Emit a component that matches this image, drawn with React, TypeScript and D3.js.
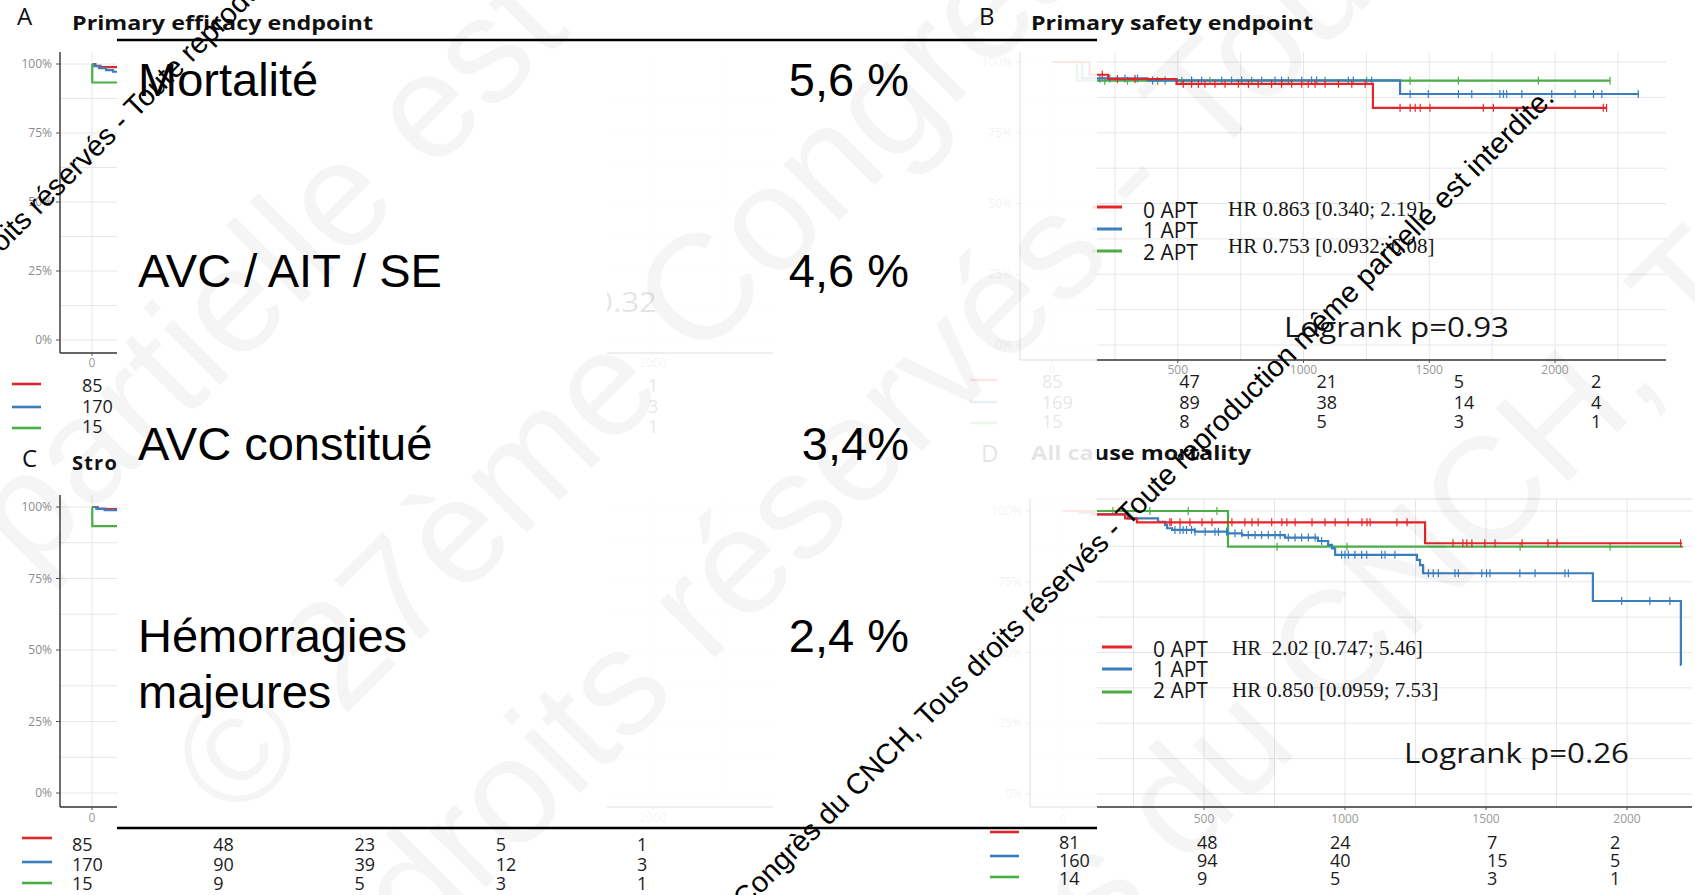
import React from "react";
import * as d3 from "d3";

type Pt = [number, number];

const W = 1695;
const H = 895;

const FONT_PANEL = "'Open Sans', 'DejaVu Sans', sans-serif";
const FONT_SLIDE = "'Liberation Sans', Arial, sans-serif";
const FONT_SERIF = "'Liberation Serif', 'Times New Roman', serif";

const RED = "#e4262b";
const BLUE = "#3a7ec0";
const GREEN = "#4aad45";
const GROUP_COLORS = [RED, BLUE, GREEN];

// ---------------- data ----------------
const groupLabels = ["0 APT", "1 APT", "2 APT"];
const riskDays = [0, 500, 1000, 1500, 2000];
const yTicks = [0, 25, 50, 75, 100];
const xTicks = [0, 500, 1000, 1500, 2000];

// Summary box: event rates
const summaryLabels = [["Mortalité"], ["AVC / AIT / SE"], ["AVC constitué"], ["Hémorragies", "majeures"]];
const summaryValues = ["5,6 %", "4,6 %", "3,4%", "2,4 %"];

// A — primary efficacy endpoint (survival %, step after each day)
const effRed: Pt[] = [[0, 100], [12, 99.3], [30, 98.9]];
const effBlue: Pt[] = [[0, 100], [8, 99.2], [25, 98.5], [50, 97.8], [75, 97.2]];
const effGreen: Pt[] = [[0, 100], [1, 93.3]];
const effEnd = 91;
const effRiskDays = [0, 2000];
const effRiskRed = [85, 1];
const effRiskBlue = [170, 3];
const effRiskGreen = [15, 1];
const effLogrank = "Logrank p=0.32";

// B — primary safety endpoint
const safRed: Pt[] = [[0, 100], [150, 95.5], [223, 94.0], [495, 92.3], [1276, 83.8]];
const safRedEnd = 2207;
const safRedCens = [200, 260, 330, 522, 555, 582, 608, 648, 688, 741, 781, 820, 873, 913, 953, 993, 1019, 1046, 1086, 1139, 1192, 1245, 1384, 1424, 1444, 1464, 1503, 1715, 1755, 2192, 2205];
const safBlue: Pt[] = [[0, 100], [120, 94.2], [380, 93.5], [1384, 88.7]];
const safBlueEnd = 2334;
const safBlueCens = [190, 230, 290, 340, 400, 450, 555, 595, 675, 714, 754, 834, 887, 913, 993, 1032, 1052, 1178, 1198, 1271, 1424, 1496, 1616, 1669, 1781, 1795, 1808, 1868, 1987, 2080, 2153, 2186, 2331];
const safGreen: Pt[] = [[0, 100], [100, 93.4]];
const safGreenEnd = 2219;
const safGreenCens = [210, 300, 420, 516, 628, 794, 940, 1086, 1251, 1424, 1616, 1934, 2219];
const safRiskRed = [85, 47, 21, 5, 2];
const safRiskBlue = [169, 89, 38, 14, 4];
const safRiskGreen = [15, 8, 5, 3, 1];
const safHR = ["HR 0.863 [0.340; 2.19]", "", "HR 0.753 [0.0932; 6.08]"];
const safLogrank = "Logrank p=0.93";

// C — stroke
const strRed: Pt[] = [[0, 100], [20, 99.3]];
const strBlue: Pt[] = [[0, 100], [15, 99.4], [45, 98.9]];
const strGreen: Pt[] = [[0, 100], [1, 93.3]];
const strEnd = 91;
const strRiskRed = [85, 48, 23, 5, 1];
const strRiskBlue = [170, 90, 39, 12, 3];
const strRiskGreen = [15, 9, 5, 3, 1];

// D — all cause mortality
const morRed: Pt[] = [[0, 100], [100, 98.8], [220, 97.4], [262, 96.0], [1284, 88.6]];
const morRedEnd = 2195;
const morRedCens = [379, 384, 415, 450, 493, 528, 599, 645, 670, 692, 740, 776, 794, 823, 883, 929, 965, 1011, 1060, 1078, 1089, 1184, 1220, 1383, 1418, 1432, 1450, 1496, 1532, 1628, 1720, 1752, 2190];
const morBlue: Pt[] = [[0, 100], [60, 99.4], [113, 98.8], [230, 97.4], [337, 96.2], [362, 95.1], [369, 93.9], [387, 93.3], [468, 92.7], [585, 92.1], [635, 91.5], [787, 90.6], [904, 89.4], [940, 88.0], [954, 86.8], [965, 84.5], [1255, 82.7], [1266, 80.9], [1277, 78.0], [1879, 68.2], [2191, 45.6]];
const morBlueEnd = 2192;
const morBlueCens = [397, 415, 426, 438, 456, 468, 504, 539, 551, 580, 610, 634, 657, 681, 704, 728, 752, 770, 799, 823, 846, 870, 894, 917, 988, 1000, 1012, 1035, 1059, 1077, 1130, 1142, 1177, 1296, 1313, 1331, 1390, 1402, 1485, 1502, 1514, 1620, 1674, 1780, 1792, 1981, 2081, 2152];
const morGreen: Pt[] = [[0, 100], [585, 87.4]];
const morGreenEnd = 2199;
const morGreenCens = [177, 308, 444, 546, 759, 1007, 1621, 1940];
const morRiskRed = [81, 48, 24, 7, 2];
const morRiskBlue = [160, 94, 40, 15, 5];
const morRiskGreen = [14, 9, 5, 3, 1];
const morHR = ["HR  2.02 [0.747; 5.46]", "", "HR 0.850 [0.0959; 7.53]"];
const morLogrank = "Logrank p=0.26";

const wmSentence = "© 27ème Congrès du CNCH, Tous droits réservés - Toute reproduction même partielle est interdite.";

// ---------------- layout ----------------
interface Layout {
  day: [number, number]; // pixel of day 0 / day 2000
  pct: [number, number]; // pixel of 0% / 100%
  left: number;
  right: number;
  top: number;
  axisY: number;
  tickDy: number;
  topRule?: boolean;
}

const LA: Layout = { day: [92, 653], pct: [340, 64], left: 60, right: 773, top: 52, axisY: 353, tickDy: 14 };
const LB: Layout = { day: [1052, 1555], pct: [345, 62], left: 1020, right: 1666, top: 52, axisY: 360, tickDy: 14 };
const LC: Layout = { day: [92, 653], pct: [793, 507], left: 60, right: 773, top: 495, axisY: 807, tickDy: 15 };
const LD: Layout = { day: [1063, 1627], pct: [794, 511], left: 1030, right: 1692, top: 499, axisY: 807, tickDy: 16, topRule: true };

interface Curve {
  steps: Pt[];
  end: number;
  cens?: number[];
  color: string;
}

function survAt(steps: Pt[], t: number) {
  let v = steps[0][1];
  for (const [s, val] of steps) if (s <= t) v = val;
  return v;
}

function KMPanel({ L, curves }: { L: Layout; curves: Curve[] }) {
  const x = d3.scaleLinear().domain([0, 2000]).range(L.day);
  const y = d3.scaleLinear().domain([0, 100]).range(L.pct);
  const dayMax = x.invert(L.right);
  const hGrid = d3.range(0, 100.01, 12.5);
  const vGrid = d3.range(0, dayMax, 250);
  const line = d3
    .line<Pt>()
    .x((d) => x(d[0]))
    .y((d) => y(d[1]))
    .curve(d3.curveStepAfter);
  return (
    <g>
      {L.topRule && <line x1={L.left} x2={L.right} y1={L.top} y2={L.top} stroke="#dedede" strokeWidth={1.2} />}
      {hGrid.map((v) => (
        <line key={"h" + v} x1={L.left} x2={L.right} y1={y(v)} y2={y(v)} stroke="#e6e6e6" strokeWidth={1} />
      ))}
      {vGrid.map((d) => (
        <line key={"v" + d} x1={x(d)} x2={x(d)} y1={L.top} y2={L.axisY} stroke="#e6e6e6" strokeWidth={1} />
      ))}
      <line x1={L.left} x2={L.left} y1={L.top} y2={L.axisY} stroke="#333" strokeWidth={1.4} />
      <line x1={L.left} x2={L.right} y1={L.axisY} y2={L.axisY} stroke="#333" strokeWidth={1.4} />
      {yTicks.map((v) => (
        <g key={"yt" + v}>
          <line x1={L.left - 4} x2={L.left} y1={y(v)} y2={y(v)} stroke="#555" strokeWidth={1} />
          <text x={L.left - 8} y={y(v) + 4} textAnchor="end" fontFamily={FONT_PANEL} fontSize={12} fill="#8c8c8c">
            {v + "%"}
          </text>
        </g>
      ))}
      {xTicks.map((d) => (
        <g key={"xt" + d}>
          <line x1={x(d)} x2={x(d)} y1={L.axisY} y2={L.axisY + 3} stroke="#555" strokeWidth={1} />
          <text x={x(d)} y={L.axisY + L.tickDy} textAnchor="middle" fontFamily={FONT_PANEL} fontSize={12} fill="#999">
            {d}
          </text>
        </g>
      ))}
      {curves.map((c, i) => {
        const pts: Pt[] = [...c.steps, [c.end, c.steps[c.steps.length - 1][1]]];
        return (
          <g key={"c" + i}>
            <path d={line(pts) || ""} fill="none" stroke={c.color} strokeWidth={2.2} />
            {(c.cens || []).map((t, j) => {
              const cy = y(survAt(c.steps, t));
              return <line key={j} x1={x(t)} x2={x(t)} y1={cy - 4} y2={cy + 4} stroke={c.color} strokeWidth={1.2} />;
            })}
          </g>
        );
      })}
    </g>
  );
}

interface TableSpec {
  rows: number[][];
  days: number[];
  scale: d3.ScaleLinear<number, number>;
  baselines: number[];
  dashX: [number, number];
  dashY: number[];
}

function RiskTable({ t }: { t: TableSpec }) {
  return (
    <g>
      {t.rows.map((row, r) => (
        <g key={r}>
          <line x1={t.dashX[0]} x2={t.dashX[1]} y1={t.dashY[r]} y2={t.dashY[r]} stroke={GROUP_COLORS[r]} strokeWidth={2.6} />
          {row.map((n, c) => (
            <text key={c} x={t.scale(t.days[c])} y={t.baselines[r]} fontFamily={FONT_PANEL} fontSize={18} fill="#1c1c1c">
              {n}
            </text>
          ))}
        </g>
      ))}
    </g>
  );
}

interface LegendSpec {
  dashX: [number, number];
  dashY: number[];
  labelX: number;
  labelY: number[];
  hr: string[];
  hrX: number;
  hrY: number[];
  logrank: string;
  lrX: number;
  lrY: number;
}

function Legend({ g }: { g: LegendSpec }) {
  return (
    <g>
      {groupLabels.map((lab, i) => (
        <g key={i}>
          <line x1={g.dashX[0]} x2={g.dashX[1]} y1={g.dashY[i]} y2={g.dashY[i]} stroke={GROUP_COLORS[i]} strokeWidth={3} />
          <text x={g.labelX} y={g.labelY[i]} fontFamily={FONT_PANEL} fontSize={21} fill="#151515">
            {lab}
          </text>
          {g.hr[i] && (
            <text x={g.hrX} y={g.hrY[i]} fontFamily={FONT_SERIF} fontSize={21} fill="#151515" style={{ whiteSpace: "pre" }}>
              {g.hr[i]}
            </text>
          )}
        </g>
      ))}
      <text x={g.lrX} y={g.lrY} fontFamily={FONT_PANEL} fontSize={27} fill="#151515" textLength={225} lengthAdjust="spacingAndGlyphs">
        {g.logrank}
      </text>
    </g>
  );
}

function PanelHeader({ letter, title, x, y, titleX, titleY, titleLen, spacing }: { letter: string; title: string; x: number; y: number; titleX: number; titleY: number; titleLen?: number; spacing?: number }) {
  return (
    <g>
      <text x={x} y={y} fontFamily={FONT_PANEL} fontSize={24} fill="#111">
        {letter}
      </text>
      <text
        x={titleX}
        y={titleY}
        fontFamily={FONT_PANEL}
        fontWeight={700}
        fontSize={20}
        fill="#111"
        letterSpacing={spacing}
        textLength={titleLen}
        lengthAdjust={titleLen ? "spacingAndGlyphs" : undefined}
      >
        {title}
      </text>
    </g>
  );
}

// Rotated text line split at an anchor point: text before ends there, text after starts there.
function Diagonal({ x, y, before, after, size, fill, opacity }: { x: number; y: number; before: string; after: string; size: number; fill: string; opacity: number }) {
  const common = { fontFamily: FONT_SLIDE, fontSize: size, fill, fillOpacity: opacity, style: { whiteSpace: "pre" as const } };
  return (
    <g transform={`translate(${x},${y}) rotate(-45)`}>
      {before && (
        <text textAnchor="end" {...common}>
          {before}
        </text>
      )}
      <text textAnchor="start" {...common}>
        {after}
      </text>
    </g>
  );
}

function splitAt(word: string): [string, string] {
  const i = wmSentence.indexOf(word);
  return [wmSentence.slice(0, i), wmSentence.slice(i)];
}

export default function App() {
  const curvesA: Curve[] = [
    { steps: effRed, end: effEnd, color: RED },
    { steps: effBlue, end: effEnd, color: BLUE },
    { steps: effGreen, end: effEnd, color: GREEN },
  ];
  const curvesB: Curve[] = [
    { steps: safGreen, end: safGreenEnd, cens: safGreenCens, color: GREEN },
    { steps: safBlue, end: safBlueEnd, cens: safBlueCens, color: BLUE },
    { steps: safRed, end: safRedEnd, cens: safRedCens, color: RED },
  ];
  const curvesC: Curve[] = [
    { steps: strRed, end: strEnd, color: RED },
    { steps: strBlue, end: strEnd, color: BLUE },
    { steps: strGreen, end: strEnd, color: GREEN },
  ];
  const curvesD: Curve[] = [
    { steps: morGreen, end: morGreenEnd, cens: morGreenCens, color: GREEN },
    { steps: morBlue, end: morBlueEnd, cens: morBlueCens, color: BLUE },
    { steps: morRed, end: morRedEnd, cens: morRedCens, color: RED },
  ];

  const tableA: TableSpec = {
    rows: [effRiskRed, effRiskBlue, effRiskGreen],
    days: effRiskDays,
    scale: d3.scaleLinear().domain([0, 2000]).range([82, 648]),
    baselines: [392, 413, 433],
    dashX: [12, 41],
    dashY: [384, 407, 428],
  };
  const tableB: TableSpec = {
    rows: [safRiskRed, safRiskBlue, safRiskGreen],
    days: riskDays,
    scale: d3.scaleLinear().domain([0, 2000]).range([1042, 1591]),
    baselines: [388, 409, 428],
    dashX: [970, 997],
    dashY: [380, 402, 423],
  };
  const tableC: TableSpec = {
    rows: [strRiskRed, strRiskBlue, strRiskGreen],
    days: riskDays,
    scale: d3.scaleLinear().domain([0, 2000]).range([72, 637]),
    baselines: [851, 871, 890],
    dashX: [22, 52],
    dashY: [838, 862, 883],
  };
  const tableD: TableSpec = {
    rows: [morRiskRed, morRiskBlue, morRiskGreen],
    days: riskDays,
    scale: d3.scaleLinear().domain(riskDays).range([1059, 1197, 1330, 1487, 1610]),
    baselines: [849, 867, 885],
    dashX: [990, 1019],
    dashY: [832, 856, 877],
  };

  const legendB: LegendSpec = {
    dashX: [1092, 1122],
    dashY: [207, 229, 251],
    labelX: 1143,
    labelY: [218, 238, 260],
    hr: safHR,
    hrX: 1228,
    hrY: [216, 0, 253],
    logrank: safLogrank,
    lrX: 1284,
    lrY: 337,
  };
  const legendD: LegendSpec = {
    dashX: [1102, 1132],
    dashY: [647, 669, 692],
    labelX: 1153,
    labelY: [657, 677, 698],
    hr: morHR,
    hrX: 1232,
    hrY: [655, 0, 697],
    logrank: morLogrank,
    lrX: 1404,
    lrY: 763,
  };

  const summaryY = [96, 287, 460, 652];

  const [wmBefore1, wmAfter1] = splitAt("partielle");
  const [wmBefore3, wmAfter3] = splitAt("réservés");
  const [wmBefore4, wmAfter4] = splitAt("CNCH");
  const [blackBefore, blackAfter] = splitAt("Toute");
  const [, blackMid] = splitAt("Congrès");

  return (
    <svg width={W} height={H} viewBox={`0 0 ${W} ${H}`} style={{ position: "absolute", left: 0, top: 0 }}>
      <rect width={W} height={H} fill="#fff" />

      {/* A */}
      <PanelHeader letter="A" title="Primary efficacy endpoint" x={17} y={25} titleX={72} titleY={30} titleLen={301} />
      <KMPanel L={LA} curves={curvesA} />
      <text x={657} y={312} textAnchor="end" fontFamily={FONT_PANEL} fontSize={27} fill="#151515" textLength={225} lengthAdjust="spacingAndGlyphs">
        {effLogrank}
      </text>
      <RiskTable t={tableA} />

      {/* B */}
      <PanelHeader letter="B" title="Primary safety endpoint" x={979} y={25} titleX={1031} titleY={30} titleLen={282} />
      <KMPanel L={LB} curves={curvesB} />
      <Legend g={legendB} />
      <RiskTable t={tableB} />

      {/* C */}
      <PanelHeader letter="C" title="Stroke" x={22} y={467} titleX={72} titleY={470} spacing={1.2} />
      <KMPanel L={LC} curves={curvesC} />
      <RiskTable t={tableC} />

      {/* D */}
      <PanelHeader letter="D" title="All cause mortality" x={981} y={462} titleX={1031} titleY={460} titleLen={220} />
      <KMPanel L={LD} curves={curvesD} />
      <Legend g={legendD} />
      <RiskTable t={tableD} />

      {/* summary box laid over the panels */}
      <rect x={117} y={40} width={490} height={788} fill="#fff" />
      <rect x={607} y={40} width={490} height={788} fill="#fff" fillOpacity={0.89} />
      <line x1={117} x2={1097} y1={40} y2={40} stroke="#000" strokeWidth={2.6} />
      <line x1={117} x2={1097} y1={828} y2={828} stroke="#000" strokeWidth={2.6} />
      {summaryLabels.map((lines, i) => (
        <g key={i}>
          {lines.map((s, k) => (
            <text key={k} x={138} y={summaryY[i] + k * 56} fontFamily={FONT_SLIDE} fontSize={47} fill="#000">
              {s}
            </text>
          ))}
          <text x={909} y={summaryY[i]} textAnchor="end" fontFamily={FONT_SLIDE} fontSize={47} fill="#000" style={{ whiteSpace: "pre" }}>
            {summaryValues[i]}
          </text>
        </g>
      ))}

      {/* faint large watermark */}
      <Diagonal x={30} y={575} before={wmBefore1} after={wmAfter1} size={150} fill="#000" opacity={0.04} />
      <Diagonal x={235} y={825} before="" after={wmSentence} size={150} fill="#000" opacity={0.04} />
      <Diagonal x={708} y={665} before={wmBefore3} after={wmAfter3} size={150} fill="#000" opacity={0.04} />
      <Diagonal x={1330} y={720} before={wmBefore4} after={wmAfter4} size={150} fill="#000" opacity={0.04} />

      {/* copyright line */}
      <Diagonal x={136} y={119} before={blackBefore} after={blackAfter} size={29} fill="#000" opacity={1} />
      <Diagonal x={745} y={910} before="" after={blackMid} size={29} fill="#000" opacity={1} />
    </svg>
  );
}
